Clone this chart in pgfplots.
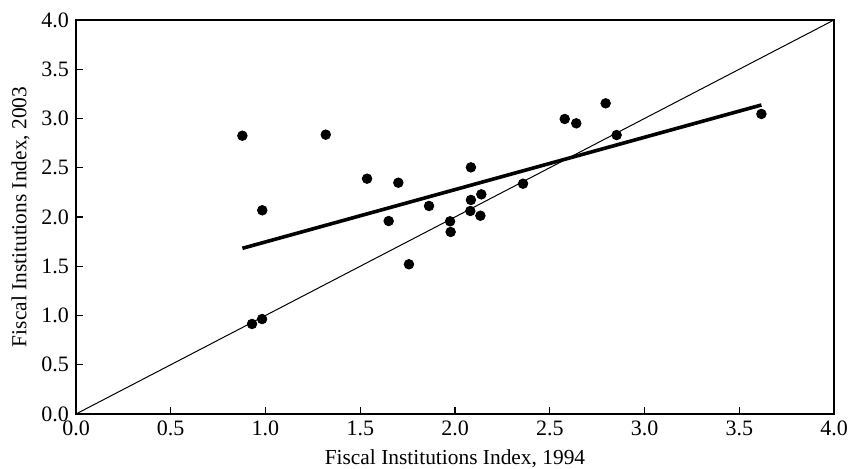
\documentclass[border=0pt]{standalone}
\usepackage{fontspec}
\setmainfont{Liberation Serif}
\usepackage{pgfplots}
\pgfplotsset{compat=1.18}
\begin{document}
\begin{tikzpicture}
\begin{axis}[
  at={(0,0)}, anchor=south west,
  scale only axis, width=379pt, height=197pt,
  xmin=0, xmax=4, ymin=0, ymax=4,
  xtick={0,0.5,...,4}, ytick={0,0.5,...,4},
  xticklabel style={/pgf/number format/.cd, fixed, fixed zerofill, precision=1},
  yticklabel style={/pgf/number format/.cd, fixed, fixed zerofill, precision=1},
  /pgf/number format/assume math mode=true,
  tick align=inside, xtick pos=bottom, ytick pos=left,
  major tick length=3.5pt,
  tick style={black, line width=0.6pt},
  axis line style={line width=0.75pt},
  ticklabel style={font=\fontsize{11}{12}\selectfont},
  label style={font=\fontsize{10.7}{12}\selectfont},
  xlabel={Fiscal Institutions Index, 1994},
  ylabel={Fiscal Institutions Index, 2003},
  xlabel style={yshift=0pt},
  ylabel style={yshift=-1pt},
  clip=false,
]
\addplot[black, line width=0.5pt] coordinates {(0,0) (4,4)};
\addplot[black, line width=1.8pt] coordinates {(0.878,1.682) (3.617,3.137)};
\addplot[only marks, mark=*, mark size=2.4pt, black, fill=black] coordinates {
(0.878,2.825) (1.318,2.836) (1.536,2.389) (1.701,2.348) (0.983,2.068)
(1.863,2.112) (1.650,1.959) (1.757,1.520) (1.974,1.956) (1.977,1.848)
(0.929,0.914) (0.982,0.964) (2.084,2.504) (2.139,2.230) (2.084,2.173)
(2.081,2.061) (2.134,2.013) (2.359,2.338) (2.579,2.995) (2.640,2.951)
(2.795,3.154) (2.853,2.832) (3.617,3.046)
};
\end{axis}
\pgfresetboundingbox
\path (-38pt,-27.5pt) rectangle (388pt,207pt);
\end{tikzpicture}
\end{document}
